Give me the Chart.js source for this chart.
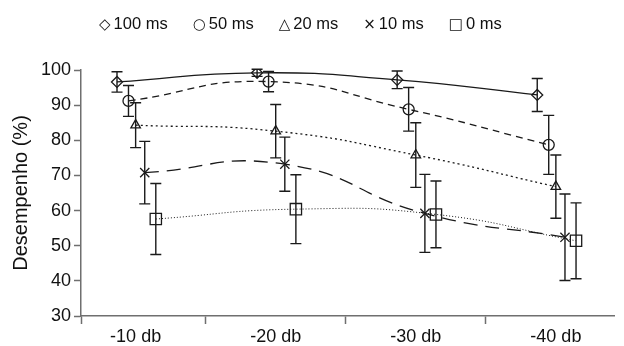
<!DOCTYPE html>
<html lang="pt">
<head>
<meta charset="UTF-8">
<title>Desempenho por atraso</title>
<script src="https://cdn.jsdelivr.net/npm/chart.js"></script>
<style>
    html, body { margin: 0; padding: 0; background: #fff; }
    .wrap { position: relative; width: 624px; height: 346px; }
    /* legenda em HTML, uma linha no topo */
    #legend {
        position: absolute; left: 99px; top: 13px;
        display: flex; gap: 25px;
        font-family: 'Liberation Sans', Arial, sans-serif;
        font-size: 16.5px; line-height: 20px; color: #111;
    }
    #legend .sym { font-family: 'DejaVu Sans', sans-serif; font-size: 15px; margin-right: 3px; }
</style>
</head>
<body>
<div class="wrap">
    <canvas id="chart" width="624" height="346"></canvas>
    <div id="legend"></div>
</div>
<script>
// --- dados ---
const categories = ['-10 db', '-20 db', '-30 db', '-40 db'];
const seriesNames = ['100 ms', '50 ms', '20 ms', '10 ms', '0 ms'];
const legendSymbols = ['\u25C7', '\u25CB', '\u25B3', '\u00D7', '\u25A1'];
const yTicks = [30, 40, 50, 60, 70, 80, 90, 100];

const mean100 = [96.6, 99.2, 97.2, 92.9];
const err100  = [2.9, 1.0, 2.5, 4.7];
const mean50  = [91.2, 96.7, 88.8, 78.7];
const err50   = [4.4, 2.9, 6.2, 8.4];
const mean20  = [84.3, 82.6, 75.8, 66.8];
const err20   = [6.4, 7.6, 9.2, 9.0];
const mean10  = [70.8, 73.2, 59.2, 52.4];
const err10   = [8.9, 7.7, 11.1, 12.3];
const mean0   = [57.6, 60.4, 58.9, 51.4];
const err0    = [10.1, 9.8, 9.5, 10.8];

// deslocamento horizontal de cada série dentro da categoria
const seriesShift = [-0.133, -0.051, 0, 0.065, 0.144];

const means = [mean100, mean50, mean20, mean10, mean0];
const errs = [err100, err50, err20, err10, err0];
const styles = [
    { pointStyle: 'rectRot',  pointRadius: 5.5, borderDash: [] },
    { pointStyle: 'circle',   pointRadius: 5.5, borderDash: [7, 5] },
    { pointStyle: 'triangle', pointRadius: 5.5, borderDash: [2, 3] },
    { pointStyle: 'crossRot', pointRadius: 6.5, borderDash: [14, 8] },
    { pointStyle: 'rect',     pointRadius: 8,   borderDash: [1, 2], borderWidth: 1 }
];

const ink = '#1a1a1a';
const axisGray = '#6f6f6f';
const baseFont = { family: "'Liberation Sans', Arial, sans-serif", size: 18 };

const datasets = seriesNames.map((name, s) => ({
    label: name,
    data: means[s].map((v, i) => ({ x: i + seriesShift[s], y: v, err: errs[s][i] })),
    borderColor: ink,
    borderWidth: styles[s].borderWidth || 1.3,
    borderDash: styles[s].borderDash,
    tension: 0.5,
    fill: false,
    pointStyle: styles[s].pointStyle,
    pointRadius: styles[s].pointRadius,
    pointBorderColor: ink,
    pointBorderWidth: 1.3,
    pointBackgroundColor: 'rgba(0,0,0,0)'
}));

// barras de erro desenhadas com as escalas do gráfico
const errorBars = {
    id: 'errorBars',
    afterDatasetsDraw(chart) {
        const { ctx, scales: { x, y } } = chart;
        ctx.save();
        ctx.strokeStyle = ink;
        ctx.lineWidth = 1.4;
        chart.data.datasets.forEach(ds => {
            ds.data.forEach(p => {
                const px = x.getPixelForValue(p.x);
                const top = y.getPixelForValue(p.y + p.err);
                const bot = y.getPixelForValue(p.y - p.err);
                ctx.beginPath();
                ctx.moveTo(px, top); ctx.lineTo(px, bot);
                ctx.moveTo(px - 5.5, top); ctx.lineTo(px + 5.5, top);
                ctx.moveTo(px - 5.5, bot); ctx.lineTo(px + 5.5, bot);
                ctx.stroke();
            });
        });
        ctx.restore();
    }
};

new Chart(document.getElementById('chart'), {
    type: 'line',
    data: { datasets },
    options: {
        responsive: false,
        animation: false,
        layout: { padding: { top: 70, right: 0, bottom: 0, left: 0 } },
        plugins: { legend: { display: false }, tooltip: { enabled: false } },
        scales: {
            x: {
                type: 'linear',
                min: -0.39,
                max: 3.42,
                afterBuildTicks: s => {
                    s.ticks = [-0.39, 0, 0.5, 1, 1.5, 2, 2.5, 3].map(v => ({ value: v }));
                },
                ticks: {
                    autoSkip: false, maxRotation: 0, padding: 2,
                    color: '#111', font: baseFont,
                    callback: v => Number.isInteger(v) ? categories[v] : ''
                },
                grid: {
                    drawOnChartArea: false, tickLength: 8, tickWidth: 1.5,
                    tickColor: c => Number.isInteger(c.tick.value) ? 'rgba(0,0,0,0)' : axisGray
                },
                border: { color: axisGray, width: 1.5 },
                afterFit: s => { s.height = 30; }
            },
            y: {
                min: 30,
                max: 100,
                afterBuildTicks: s => { s.ticks = yTicks.map(v => ({ value: v })); },
                ticks: { padding: 3, color: '#111', font: baseFont },
                grid: { drawOnChartArea: false, tickLength: 7, tickWidth: 1.5, tickColor: axisGray },
                border: { color: axisGray, width: 1.5 },
                title: {
                    display: true, text: 'Desempenho (%)', color: '#111',
                    font: { family: baseFont.family, size: 20 }, padding: { top: 9, bottom: 0 }
                },
                afterFit: s => { s.width = 81; }
            }
        }
    },
    plugins: [errorBars]
});

// legenda
const legend = document.getElementById('legend');
seriesNames.forEach((name, s) => {
    const item = document.createElement('span');
    item.innerHTML = `<span class="sym">${legendSymbols[s]}</span>${name}`;
    legend.appendChild(item);
});
</script>
</body>
</html>
